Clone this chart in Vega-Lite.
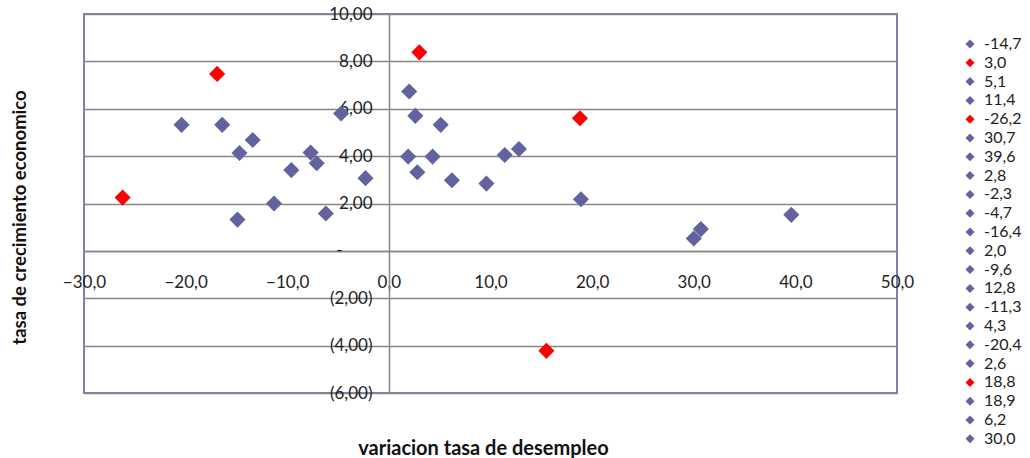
{
  "$schema": "https://vega.github.io/schema/vega-lite/v6.json",
  "width": 813,
  "height": 379,
  "autosize": {"type": "none"},
  "padding": {"left": 84, "top": 14, "right": 133, "bottom": 65},
  "background": "white",
  "config": {"view": {"stroke": "#7F7FB6", "strokeWidth": 2}, "font": "Lato"},
  "data": {
    "values": [
      {"serie": "-14,7", "x": -14.7, "y": 4.13},
      {"serie": "3,0", "x": 3.0, "y": 8.38},
      {"serie": "5,1", "x": 5.1, "y": 5.32},
      {"serie": "11,4", "x": 11.4, "y": 4.05},
      {"serie": "-26,2", "x": -26.2, "y": 2.25},
      {"serie": "30,7", "x": 30.7, "y": 0.92},
      {"serie": "39,6", "x": 39.6, "y": 1.52},
      {"serie": "2,8", "x": 2.8, "y": 3.32},
      {"serie": "-2,3", "x": -2.3, "y": 3.07},
      {"serie": "-4,7", "x": -4.7, "y": 5.8},
      {"serie": "-16,4", "x": -16.4, "y": 5.32},
      {"serie": "2,0", "x": 2.0, "y": 6.73},
      {"serie": "-9,6", "x": -9.6, "y": 3.41},
      {"serie": "12,8", "x": 12.8, "y": 4.3},
      {"serie": "-11,3", "x": -11.3, "y": 2.0},
      {"serie": "4,3", "x": 4.3, "y": 3.98},
      {"serie": "-20,4", "x": -20.4, "y": 5.32},
      {"serie": "2,6", "x": 2.6, "y": 5.7},
      {"serie": "18,8", "x": 18.8, "y": 5.6},
      {"serie": "18,9", "x": 18.9, "y": 2.18},
      {"serie": "6,2", "x": 6.2, "y": 2.98},
      {"serie": "30,0", "x": 30.0, "y": 0.52},
      {"serie": "-13,4", "x": -13.4, "y": 4.68},
      {"serie": "-14,9", "x": -14.9, "y": 1.32},
      {"serie": "-7,7", "x": -7.7, "y": 4.15},
      {"serie": "-7,1", "x": -7.1, "y": 3.7},
      {"serie": "-6,2", "x": -6.2, "y": 1.58},
      {"serie": "1,9", "x": 1.9, "y": 3.98},
      {"serie": "9,6", "x": 9.6, "y": 2.84},
      {"serie": "-16,9", "x": -16.9, "y": 7.47},
      {"serie": "15,5", "x": 15.5, "y": -4.22}
    ]
  },
  "mark": {"type": "point", "shape": "diamond", "filled": true, "size": 260, "opacity": 1},
  "encoding": {
    "x": {
      "field": "x",
      "type": "quantitative",
      "scale": {"domain": [-30, 50], "nice": false, "zero": false},
      "axis": {
        "title": "variacion tasa de desempleo",
        "offset": -142,
        "values": [-30, -20, -10, 0, 10, 20, 30, 40, 50],
        "labelExpr": "replace(format(datum.value,'.1f'),'.',',')",
        "grid": false,
        "ticks": false,
        "domainColor": "#868686",
        "domainWidth": 1.5,
        "labelPadding": 23,
        "labelFontSize": 17,
        "labelColor": "#222222",
        "labelFlush": false,
        "labelOverlap": false,
        "titleX": 399,
        "titleY": 197,
        "titleBaseline": "middle",
        "titleAlign": "center",
        "titleFontSize": 20,
        "titleFontWeight": "bold",
        "titleColor": "#111111"
      }
    },
    "y": {
      "field": "y",
      "type": "quantitative",
      "scale": {"domain": [-6, 10], "nice": false, "zero": false},
      "axis": {
        "title": "tasa de crecimiento economico",
        "offset": -305,
        "values": [-6, -4, -2, 0, 2, 4, 6, 8, 10],
        "labelExpr": "datum.value == 0 ? '-' : (datum.value < 0 ? '(' + replace(format(-datum.value,'.2f'),'.',',') + ')' : replace(format(datum.value,'.2f'),'.',','))",
        "grid": true,
        "gridColor": "#868686",
        "gridWidth": 1.5,
        "ticks": false,
        "domainColor": "#868686",
        "domainWidth": 1.5,
        "labelPadding": {
          "condition": {"test": "datum.value == 0", "value": 47},
          "value": 17
        },
        "labelFontSize": 17,
        "labelColor": "#222222",
        "labelOverlap": false,
        "titleX": -370,
        "titleY": 203,
        "titleAngle": -90,
        "titleBaseline": "middle",
        "titleAlign": "center",
        "titleFontSize": 18.5,
        "titleFontWeight": "bold",
        "titleColor": "#111111",
        "encode": {
          "labels": {
            "update": {
              "dx": {"signal": "datum.value > 0 ? -8 : 0"}
            }
          }
        }
      }
    },
    "color": {
      "field": "serie",
      "type": "nominal",
      "scale": {
        "domain": ["-14,7", "3,0", "5,1", "11,4", "-26,2", "30,7", "39,6", "2,8", "-2,3", "-4,7", "-16,4", "2,0", "-9,6", "12,8", "-11,3", "4,3", "-20,4", "2,6", "18,8", "18,9", "6,2", "30,0", "-13,4", "-14,9", "-7,7", "-7,1", "-6,2", "1,9", "9,6", "-16,9", "15,5"],
        "range": ["#62629E", "#FF0000", "#62629E", "#62629E", "#FF0000", "#62629E", "#62629E", "#62629E", "#62629E", "#62629E", "#62629E", "#62629E", "#62629E", "#62629E", "#62629E", "#62629E", "#62629E", "#62629E", "#FF0000", "#62629E", "#62629E", "#62629E", "#62629E", "#62629E", "#62629E", "#62629E", "#62629E", "#62629E", "#62629E", "#FF0000", "#FF0000"]
      },
      "legend": {
        "orient": "none",
        "legendX": 878,
        "legendY": 22,
        "title": null,
        "values": ["-14,7", "3,0", "5,1", "11,4", "-26,2", "30,7", "39,6", "2,8", "-2,3", "-4,7", "-16,4", "2,0", "-9,6", "12,8", "-11,3", "4,3", "-20,4", "2,6", "18,8", "18,9", "6,2", "30,0"],
        "symbolType": "diamond",
        "symbolSize": 81,
        "symbolStrokeWidth": 0,
        "labelFontSize": 16,
        "labelColor": "#222222",
        "labelOffset": 6,
        "rowPadding": 2.8,
        "symbolLimit": 100,
        "padding": 0
      }
    }
  }
}
